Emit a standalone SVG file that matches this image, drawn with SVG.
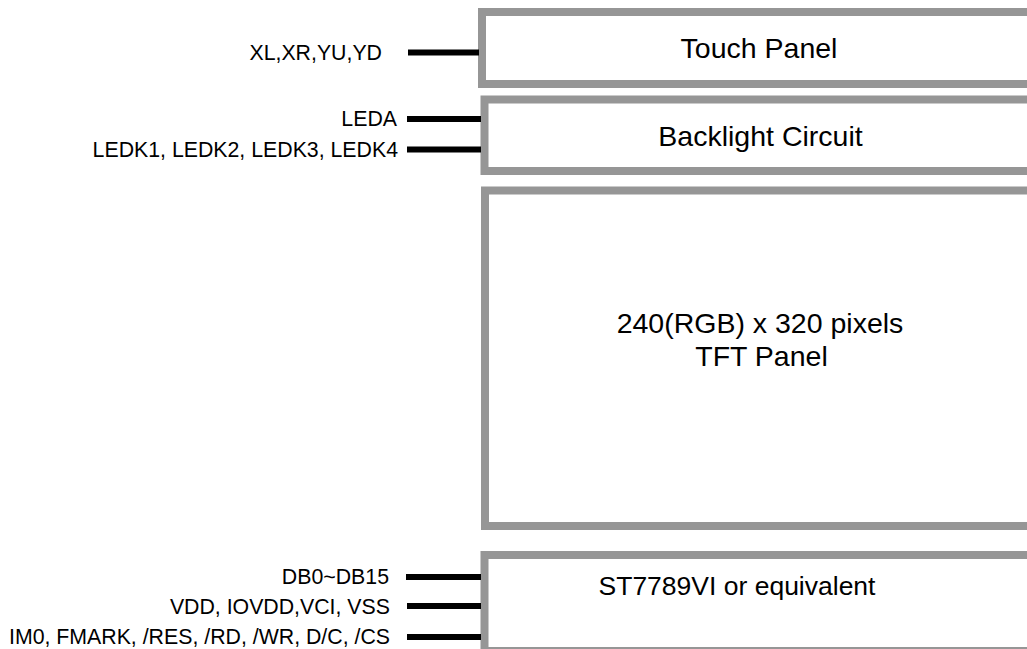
<svg xmlns="http://www.w3.org/2000/svg" width="1027" height="649" viewBox="0 0 1027 649">
<style>
.box{fill:#ffffff;stroke:#969696;stroke-width:8}
.lbl{font-family:"Liberation Sans",Arial,sans-serif;font-size:28.5px;fill:#000;text-anchor:middle}
.pin{font-family:"Liberation Sans",Arial,sans-serif;font-size:21.3px;fill:#000;text-anchor:end}
.wire{stroke:#000;stroke-width:6;fill:none}
</style>
<rect width="1027" height="649" fill="#ffffff"/>
<g id="touch-panel">
<rect class="box" x="482" y="12" width="600" height="72"/>
<text class="lbl" x="759" y="58">Touch Panel</text>
</g>
<g id="backlight-circuit">
<rect class="box" x="484.5" y="99.5" width="600" height="71.5"/>
<text class="lbl" x="760.5" y="146">Backlight Circuit</text>
</g>
<g id="tft-panel">
<rect class="box" x="485" y="190.5" width="600" height="335.5"/>
<text class="lbl" x="760" y="333">240(RGB) x 320 pixels</text>
<text class="lbl" x="761.5" y="366">TFT Panel</text>
</g>
<g id="driver-ic">
<rect class="box" x="484.5" y="555" width="600" height="96"/>
<text class="lbl" x="737" y="595" style="font-size:26.5px">ST7789VI or equivalent</text>
</g>
<g id="pin-labels">
<text class="pin" x="382" y="60">XL,XR,YU,YD</text>
<text class="pin" x="397" y="126">LEDA</text>
<text class="pin" x="398" y="156.5">LEDK1, LEDK2, LEDK3, LEDK4</text>
<text class="pin" x="389" y="584">DB0~DB15</text>
<text class="pin" x="390" y="614">VDD, IOVDD,VCI, VSS</text>
<text class="pin" x="390" y="644">IM0, FMARK, /RES, /RD, /WR, D/C, /CS</text>
</g>
<g id="connectors">
<line class="wire" x1="408" y1="52.5" x2="479" y2="52.5"/>
<line class="wire" x1="407" y1="119" x2="481" y2="119"/>
<line class="wire" x1="407" y1="149.5" x2="481" y2="149.5"/>
<line class="wire" x1="406" y1="577" x2="481" y2="577"/>
<line class="wire" x1="407" y1="606" x2="481" y2="606"/>
<line class="wire" x1="407" y1="637" x2="481" y2="637"/>
</g>
</svg>
